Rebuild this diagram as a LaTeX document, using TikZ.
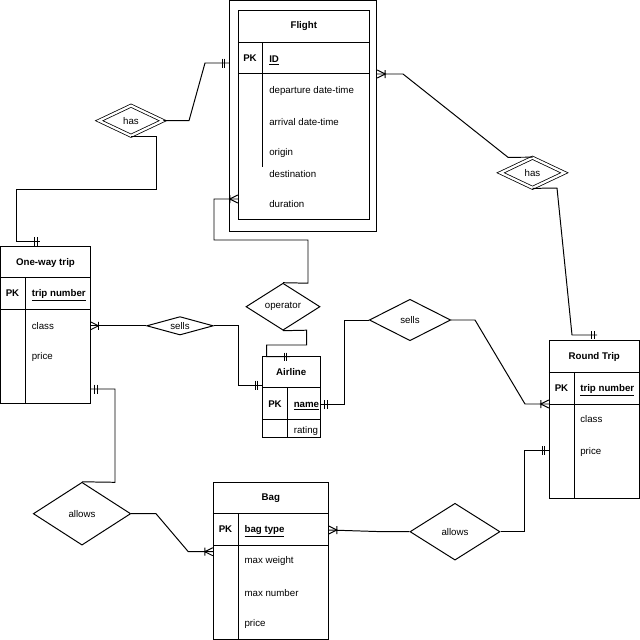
\documentclass[tikz,border=0pt]{standalone}
\usepackage{fontspec}
\setmainfont{Liberation Sans}
\usetikzlibrary{shapes.geometric,calc}
\newcommand{\erfont}{\fontsize{6.9}{8.3}\selectfont}
\tikzset{
  erline/.style={draw=black,line width=0.7pt},
  entitybox/.style={draw=black,line width=0.7pt,rectangle,inner sep=0pt},
  relation/.style={draw=black,line width=0.7pt,diamond,inner sep=0pt,font=\erfont},
  weakrel/.style={relation,line width=0.55pt,double,double distance=1.6pt},
  etitle/.style={font=\erfont\bfseries},
  pkmark/.style={font=\erfont\bfseries},
  keyfield/.style={font=\erfont\bfseries,anchor=west,inner sep=0pt,yshift=-0.05cm},
  attr/.style={font=\erfont,anchor=west,inner sep=0pt}
}
% header line, key line and key divider of an entity box
\newcommand{\erlines}[5]{%
  \draw[erline] (#1.west |- 0,#2) -- (#1.east |- 0,#2);
  \draw[erline] (#1.west |- 0,#3) -- (#1.east |- 0,#3);
  \draw[erline] (#4,#2) -- (#4,#5);
}
% cardinality marks: 1 = edge leaves to the right, -1 = to the left
\newcommand{\crowfoot}[2]{%
  \begin{scope}[shift={#1},xscale=#2]
    \draw[erline] (0,-4) -- (8,0) -- (0,4) (8,-4) -- (8,4);
  \end{scope}
}
\newcommand{\mandone}[2]{%
  \begin{scope}[shift={#1},xscale=#2]
    \draw[erline] (4,-4.5) -- (4,4.5) (6.5,-4.5) -- (6.5,4.5);
  \end{scope}
}

\begin{document}
\begin{tikzpicture}[x=0.025cm,y=-0.025cm]
  \fill[white] (0,0) rectangle (640,640);
  \useasboundingbox (0,0) rectangle (640,640);

  % Flight
  \node[entitybox,minimum width=3.685cm,minimum height=5.75cm] (flight) at (303,116) {};
  \node[entitybox,minimum width=3.275cm,minimum height=5.23cm] (flightin) at (303.8,115.35) {};
  \erlines{flightin}{42.3}{73.3}{262.3}{167.3}
  \node[etitle] (flighttitle) at (303.8,26.5) {Flight};
  \node[pkmark] (flightpk) at (250,58.5) {PK};
  \node[keyfield] (flightkey) at (269,58.5) {\underline{ID}};
  \foreach \txt/\y [count=\i] in {departure date-time/90.7,arrival date-time/121.7,origin/153.3,destination/174,duration/204.3}
    \node[attr] (flightattr\i) at (269,\y) {\txt};

  % One-way trip
  \node[entitybox,minimum width=2.225cm,minimum height=3.93cm] (oneway) at (45.5,324.7) {};
  \erlines{oneway}{277.7}{309.3}{25}{403.3}
  \node[etitle] (onewaytitle) at (45.5,263) {One-way trip};
  \node[pkmark] (onewaypk) at (12.5,293.5) {PK};
  \node[keyfield] (onewaykey) at (31.5,293.5) {\underline{trip number}};
  \foreach \txt/\y [count=\i] in {class/326,price/356.7}
    \node[attr] (onewayattr\i) at (31.5,\y) {\txt};

  % Airline
  \node[entitybox,minimum width=1.44cm,minimum height=2.03cm] (airline) at (291.2,397.3) {};
  \erlines{airline}{387.7}{419.3}{287.3}{438}
  \node[etitle] (airlinetitle) at (291.2,372.5) {Airline};
  \node[pkmark] (airlinepk) at (275,404.5) {PK};
  \node[keyfield] (airlinekey) at (293.5,404.5) {\underline{name}};
  \node[attr] (airlineattr1) at (293.5,430.5) {rating};

  % Round Trip
  \node[entitybox,minimum width=2.25cm,minimum height=3.94cm] (roundtrip) at (594.3,419.5) {};
  \erlines{roundtrip}{372.7}{404}{574.3}{498.3}
  \node[etitle] (roundtriptitle) at (594.3,357) {Round Trip};
  \node[pkmark] (roundtrippk) at (561.5,388.5) {PK};
  \node[keyfield] (roundtripkey) at (580,388.5) {\underline{trip number}};
  \foreach \txt/\y [count=\i] in {class/419.3,price/451.7}
    \node[attr] (roundtripattr\i) at (580,\y) {\txt};

  % Bag
  \node[entitybox,minimum width=2.875cm,minimum height=3.925cm] (bag) at (270.8,560.8) {};
  \erlines{bag}{513.3}{545}{238.3}{639.3}
  \node[etitle] (bagtitle) at (270.8,498) {Bag};
  \node[pkmark] (bagpk) at (225.5,529.5) {PK};
  \node[keyfield] (bagkey) at (244.3,529.5) {\underline{bag type}};
  \foreach \txt/\y [count=\i] in {max weight/561,max number/592.7,price/624}
    \node[attr] (bagattr\i) at (244.3,\y) {\txt};

  % Relationships
  \node[weakrel,minimum width=1.6cm,minimum height=0.76cm,aspect=2.1] (hasl) at (131,120.7) {has};
  \node[weakrel,minimum width=1.6cm,minimum height=0.76cm,aspect=2.1] (hasr) at (532.5,172.8) {has};
  \node[relation,minimum width=1.85cm,minimum height=1.175cm,aspect=1.6] (operator) at (283,306.7) {operator};
  \node[relation,minimum width=1.665cm,minimum height=0.46cm,aspect=3.6] (sellsl) at (180,325.8) {sells};
  \node[relation,minimum width=2.035cm,minimum height=1.035cm,aspect=2] (sellsr) at (410,320) {sells};
  \node[relation,minimum width=2.435cm,minimum height=1.57cm,aspect=1.55] (allowsl) at (82,513.7) {allows};
  \node[relation,minimum width=2.25cm,minimum height=1.42cm,aspect=1.6] (allowsr) at (455,531.7) {allows};

  % Flight -- has -- One-way trip
  \draw[erline] (flight.west |- 0,63) -- (205,63) -- (189,120.7) -- (hasl.east);
  \mandone{(flight.west |- 0,63)}{-1}
  \coordinate (onewaytop) at (40,241);
  \draw[erline] (hasl.south) -| (156,189) -- (16,189) |- (onewaytop);
  \draw[erline] (34,237) -- (34,246) (37,237) -- (37,246);

  % Flight -- has -- Round Trip
  \draw[erline] (flight.east |- 0,74) -- (403,74) -- (508,157.3) -- (hasr.north);
  \crowfoot{(flight.east |- 0,74)}{1}
  \coordinate (roundtriptop) at (597,335);
  \draw[erline] (hasr.south) -- (557,188) -- (572,335) -- (roundtriptop);
  \draw[erline] (591,331) -- (591,339) (594,331) -- (594,339);

  % Flight -- operator -- Airline
  \draw[erline] (operator.north) -- (308,283.2) -- (308,240) -- (214,240) -- (214,199) -- (flightin.west |- 0,199);
  \crowfoot{(flightin.west |- 0,199)}{-1}
  \coordinate (airlinetop) at (290,356.7);
  \draw[erline] (operator.south) -- (306.7,330.2) -- (306.7,345) -- (266.7,345) |- (airlinetop);
  \draw[erline] (284.3,352.5) -- (284.3,360.5) (286.7,352.5) -- (286.7,360.5);

  % One-way trip -- sells -- Airline
  \draw[erline] (oneway.east |- sellsl) -- (sellsl.west);
  \crowfoot{(oneway.east |- sellsl)}{1}
  \draw[erline] (sellsl.east) -| (238,385) -- (airline.west |- 0,385);
  \mandone{(airline.west |- 0,385)}{-1}

  % Airline -- sells -- Round Trip
  \draw[erline] (airline.east |- 0,404.5) -| (344,320) -- (sellsr.west);
  \mandone{(airline.east |- 0,404.5)}{1}
  \draw[erline] (sellsr.east) -- (475,320) -- (525,404) -- (roundtrip.west |- 0,404);
  \crowfoot{(roundtrip.west |- 0,404)}{-1}

  % One-way trip -- allows -- Bag
  \draw[erline] (oneway.east |- 0,389) -| (115,482.3) -- (allowsl.north);
  \mandone{(oneway.east |- 0,389)}{1}
  \draw[erline] (allowsl.east) -- (156,513.7) -- (188.3,551.7) -- (bag.west |- 0,551.7);
  \crowfoot{(bag.west |- 0,551.7)}{-1}

  % Bag -- allows -- Round Trip
  \draw[erline] (bag.east |- 0,530) -- (383,531.7) -- (allowsr.west);
  \crowfoot{(bag.east |- 0,530)}{1}
  \draw[erline] (allowsr.east) -| (524.3,450.7) -- (roundtrip.west |- 0,450.7);
  \mandone{(roundtrip.west |- 0,450.7)}{-1}
\end{tikzpicture}
\end{document}
